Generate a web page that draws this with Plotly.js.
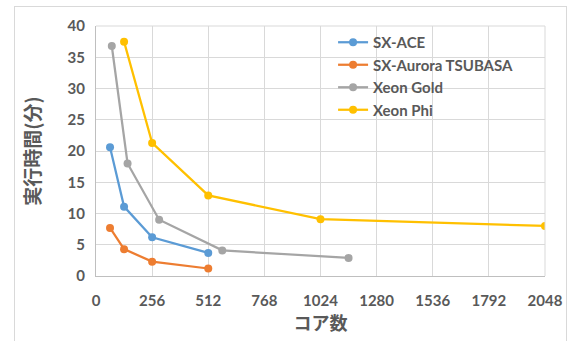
<!DOCTYPE html>
<html><head><meta charset="utf-8">
<script src="https://cdn.plot.ly/plotly-3.0.1.min.js"></script>
<style>
html,body{margin:0;padding:0;background:#fff;}
#wrap{position:relative;width:573px;height:341px;}
#chart{position:absolute;left:0;top:0;width:573px;height:341px;}
#frame{position:absolute;left:14px;top:6px;width:553px;height:340px;border:1px solid #d9d9d9;box-sizing:border-box;pointer-events:none;}
</style></head>
<body><div id="wrap"><div id="chart"></div><div id="frame"></div></div>
<script>
const seriesNames = ["SX-ACE", "SX-Aurora TSUBASA", "Xeon Gold", "Xeon Phi"];
const sxAceCores = [64, 128, 256, 512];
const sxAceTime = [20.6, 11.1, 6.2, 3.7];
const auroraCores = [64, 128, 256, 512];
const auroraTime = [7.7, 4.3, 2.3, 1.2];
const goldCores = [72, 144, 288, 576, 1152];
const goldTime = [36.8, 18.0, 9.0, 4.1, 2.9];
const phiCores = [128, 256, 512, 1024, 2048];
const phiTime = [37.5, 21.3, 12.9, 9.1, 8.0];
const xTicks = [0, 256, 512, 768, 1024, 1280, 1536, 1792, 2048];
const yTicks = [0, 5, 10, 15, 20, 25, 30, 35, 40];
const xTitle = "コア数";
const yTitle = "実行時間(分)";
const colors = ["#5B9BD5", "#ED7D31", "#A5A5A5", "#FFC000"];

const xs = [sxAceCores, auroraCores, goldCores, phiCores];
const ys = [sxAceTime, auroraTime, goldTime, phiTime];
const traces = seriesNames.map((n, i) => ({
  x: xs[i], y: ys[i], name: n, type: "scatter", mode: "lines+markers",
  line: {color: colors[i], width: 2.25},
  marker: {color: colors[i], size: 8}
}));
const tickFont = {family: "Lato, 'Noto Sans CJK JP', sans-serif", size: 15, color: "#595959", weight: "bold"};
const titleFont = {family: "'Noto Sans CJK JP', sans-serif", color: "#595959", weight: "bold"};
const layout = {
  width: 573, height: 341,
  margin: {l: 96, r: 28, t: 26, b: 65},
  paper_bgcolor: "rgba(0,0,0,0)", plot_bgcolor: "#fff",
  showlegend: true,
  legend: {x: 0.528, y: 1.0, xanchor: "left", yanchor: "top", bgcolor: "rgba(0,0,0,0)",
    font: {family: "Lato, sans-serif", size: 15, color: "#595959", weight: "bold"},
    tracegroupgap: 0, itemwidth: 30},
  xaxis: {range: [0, 2048], tickvals: xTicks, ticktext: xTicks.map(String),
    showgrid: true, gridcolor: "#d9d9d9", gridwidth: 1, zeroline: false,
    showline: true, linecolor: "#bfbfbf", linewidth: 1, mirror: false,
    ticks: "", tickfont: tickFont, ticklen: 0, ticklabelstandoff: 11,
    title: {text: xTitle, font: Object.assign({size: 18}, titleFont), standoff: 6}},
  yaxis: {range: [0, 40], tickvals: yTicks, ticktext: yTicks.map(String),
    showgrid: true, gridcolor: "#d9d9d9", gridwidth: 1, zeroline: false,
    showline: true, linecolor: "#bfbfbf", linewidth: 1,
    ticks: "", tickfont: tickFont, ticklabelstandoff: 7,
    title: {text: yTitle, font: Object.assign({size: 19}, titleFont), standoff: 21}},
  shapes: [
    {type: "line", xref: "paper", yref: "paper", x0: 1, x1: 1, y0: 0, y1: 1, line: {color: "#d9d9d9", width: 1}},
    {type: "line", xref: "paper", yref: "paper", x0: 0, x1: 1, y0: 1, y1: 1, line: {color: "#d9d9d9", width: 1}}
  ]
};
Plotly.newPlot("chart", traces, layout, {displayModeBar: false, staticPlot: true});
</script></body></html>
